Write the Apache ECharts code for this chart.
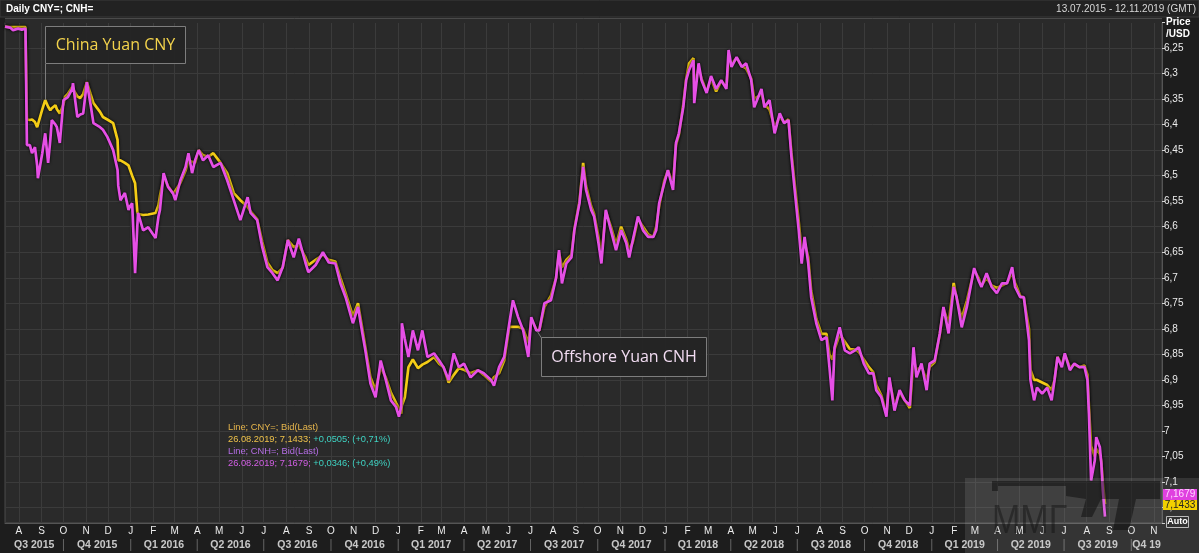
<!DOCTYPE html>
<html><head><meta charset="utf-8">
<script src="https://cdn.jsdelivr.net/npm/echarts@6/dist/echarts.min.js"></script>
<style>html,body{margin:0;padding:0;background:#1d1d1d;overflow:hidden}#c{width:1199px;height:553px}</style>
</head><body><div id="c"></div>
<script>
// ---- data ----
const dates = [
'2015-07-13','2015-07-20','2015-07-24','2015-07-31','2015-08-05','2015-08-10','2015-08-12','2015-08-16','2015-08-19','2015-08-23',
'2015-08-26','2015-08-27','2015-09-02','2015-09-06','2015-09-10','2015-09-13','2015-09-15','2015-09-20','2015-09-22','2015-09-26',
'2015-10-01','2015-10-03','2015-10-07','2015-10-13','2015-10-14','2015-10-20','2015-10-24','2015-10-28','2015-11-02','2015-11-07',
'2015-11-11','2015-11-20','2015-11-24','2015-11-30','2015-12-08','2015-12-14','2015-12-15','2015-12-18','2015-12-24','2015-12-29',
'2015-12-31','2016-01-03','2016-01-07','2016-01-10','2016-01-11','2016-01-18','2016-01-25','2016-02-04','2016-02-08','2016-02-10',
'2016-02-15','2016-02-21','2016-02-28','2016-03-02','2016-03-09','2016-03-16','2016-03-20','2016-03-25','2016-03-29','2016-04-03',
'2016-04-09','2016-04-16','2016-04-23','2016-05-03','2016-05-12','2016-05-21','2016-05-30','2016-06-09','2016-06-13','2016-06-22',
'2016-06-29','2016-07-06','2016-07-13','2016-07-20','2016-07-27','2016-08-03','2016-08-11','2016-08-18','2016-08-27','2016-08-31',
'2016-09-10','2016-09-20','2016-09-28','2016-10-07','2016-10-14','2016-10-21','2016-10-31','2016-11-07','2016-11-13','2016-11-17',
'2016-11-24','2016-12-01','2016-12-08','2016-12-15','2016-12-22','2016-12-29','2017-01-02','2017-01-05','2017-01-06','2017-01-10',
'2017-01-15','2017-01-21','2017-01-28','2017-02-03','2017-02-10','2017-02-19','2017-02-26','2017-03-04','2017-03-11','2017-03-18',
'2017-03-25','2017-04-01','2017-04-10','2017-04-20','2017-04-28','2017-05-08','2017-05-12','2017-05-19','2017-05-26','2017-06-02',
'2017-06-07','2017-06-14','2017-06-21','2017-06-28','2017-07-02','2017-07-09','2017-07-13','2017-07-20','2017-07-29','2017-08-05',
'2017-08-09','2017-08-13','2017-08-19','2017-08-26','2017-08-30','2017-09-06','2017-09-11','2017-09-15','2017-09-22','2017-09-26',
'2017-10-02','2017-10-06','2017-10-12','2017-10-19','2017-10-26','2017-11-02','2017-11-09','2017-11-13','2017-11-18','2017-11-25',
'2017-12-02','2017-12-09','2017-12-16','2017-12-20','2017-12-24','2017-12-31','2018-01-05','2018-01-12','2018-01-16','2018-01-20',
'2018-01-26','2018-01-30','2018-02-03','2018-02-09','2018-02-10','2018-02-16','2018-02-20','2018-02-27','2018-03-05','2018-03-12',
'2018-03-19','2018-03-26','2018-03-29','2018-04-02','2018-04-09','2018-04-16','2018-04-22','2018-04-29','2018-05-03','2018-05-13',
'2018-05-17','2018-05-24','2018-05-31','2018-06-07','2018-06-13','2018-06-19','2018-06-23','2018-06-27','2018-07-03','2018-07-07',
'2018-07-11','2018-07-16','2018-07-20','2018-07-27','2018-08-03','2018-08-10','2018-08-14','2018-08-18','2018-08-21','2018-08-28',
'2018-09-04','2018-09-11','2018-09-18','2018-09-23','2018-09-30','2018-10-07','2018-10-13','2018-10-17','2018-10-24','2018-10-31',
'2018-11-04','2018-11-11','2018-11-18','2018-11-25','2018-12-02','2018-12-07','2018-12-11','2018-12-18','2018-12-25','2018-12-29',
'2019-01-05','2019-01-12','2019-01-17','2019-01-24','2019-01-31','2019-02-04','2019-02-11','2019-02-18','2019-02-28','2019-03-06',
'2019-03-10','2019-03-17','2019-03-24','2019-03-31','2019-04-07','2019-04-14','2019-04-21','2019-04-25','2019-05-02','2019-05-07',
'2019-05-14','2019-05-16','2019-05-21','2019-05-25','2019-06-01','2019-06-08','2019-06-14','2019-06-18','2019-06-22','2019-06-28',
'2019-07-02','2019-07-09','2019-07-15','2019-07-22','2019-07-29','2019-08-02','2019-08-04','2019-08-07','2019-08-12','2019-08-14',
'2019-08-19','2019-08-21','2019-08-23','2019-08-26'
];
const cny = [
6.208,6.209,6.209,6.209,6.209,6.209,6.390,6.391,6.390,6.395,
6.405,6.400,6.370,6.352,6.365,6.372,6.368,6.362,6.370,6.378,
6.360,6.346,6.340,6.326,6.330,6.345,6.348,6.340,6.317,6.340,
6.358,6.375,6.385,6.390,6.397,6.430,6.470,6.470,6.475,6.480,
6.483,6.500,6.515,6.571,6.575,6.577,6.576,6.573,6.558,6.540,
6.503,6.520,6.535,6.530,6.514,6.490,6.470,6.473,6.475,6.450,
6.460,6.463,6.456,6.475,6.495,6.534,6.548,6.561,6.570,6.585,
6.630,6.670,6.685,6.691,6.680,6.626,6.640,6.635,6.660,6.675,
6.665,6.655,6.665,6.668,6.700,6.730,6.775,6.750,6.800,6.835,
6.895,6.920,6.875,6.895,6.925,6.945,6.955,6.966,6.950,6.934,
6.875,6.860,6.877,6.870,6.865,6.855,6.868,6.875,6.905,6.890,
6.877,6.880,6.887,6.881,6.890,6.903,6.895,6.887,6.862,6.796,
6.796,6.796,6.800,6.828,6.783,6.800,6.803,6.757,6.735,6.700,
6.650,6.680,6.665,6.655,6.605,6.550,6.475,6.520,6.560,6.575,
6.620,6.660,6.570,6.600,6.635,6.600,6.625,6.645,6.630,6.585,
6.600,6.615,6.620,6.600,6.560,6.510,6.490,6.515,6.440,6.420,
6.360,6.310,6.280,6.270,6.320,6.290,6.310,6.335,6.310,6.335,
6.315,6.325,6.275,6.280,6.270,6.285,6.290,6.310,6.350,6.340,
6.360,6.370,6.405,6.385,6.395,6.390,6.455,6.510,6.590,6.650,
6.630,6.660,6.725,6.780,6.810,6.810,6.850,6.860,6.840,6.810,
6.825,6.840,6.840,6.845,6.860,6.875,6.885,6.910,6.930,6.965,
6.900,6.950,6.925,6.940,6.955,6.860,6.880,6.875,6.900,6.875,
6.865,6.810,6.760,6.790,6.710,6.740,6.780,6.745,6.685,6.700,
6.715,6.700,6.715,6.720,6.715,6.710,6.690,6.710,6.735,6.740,
6.800,6.880,6.900,6.900,6.905,6.910,6.920,6.900,6.855,6.870,
6.850,6.875,6.870,6.875,6.872,6.890,6.950,7.030,7.050,7.035,
7.045,7.060,7.100,7.1433
];
const cnh = [
6.208,6.210,6.215,6.212,6.214,6.212,6.440,6.440,6.456,6.444,
6.480,6.505,6.456,6.417,6.475,6.430,6.391,6.400,6.405,6.436,
6.352,6.350,6.346,6.330,6.319,6.385,6.380,6.378,6.317,6.360,
6.397,6.405,6.410,6.424,6.450,6.489,6.520,6.548,6.534,6.567,
6.560,6.554,6.691,6.600,6.573,6.607,6.601,6.622,6.580,6.567,
6.495,6.522,6.535,6.548,6.509,6.483,6.456,6.495,6.470,6.450,
6.470,6.460,6.483,6.475,6.509,6.548,6.587,6.542,6.573,6.587,
6.640,6.679,6.691,6.705,6.679,6.626,6.660,6.623,6.670,6.689,
6.675,6.650,6.670,6.672,6.711,6.738,6.789,6.757,6.809,6.842,
6.907,6.934,6.862,6.900,6.940,6.953,6.972,6.953,6.789,6.820,
6.855,6.803,6.842,6.803,6.855,6.848,6.862,6.875,6.900,6.848,
6.875,6.868,6.895,6.881,6.887,6.900,6.911,6.875,6.855,6.789,
6.744,6.777,6.803,6.855,6.777,6.803,6.803,6.750,6.744,6.700,
6.646,6.711,6.672,6.660,6.607,6.554,6.483,6.528,6.567,6.580,
6.632,6.672,6.567,6.607,6.646,6.607,6.632,6.660,6.626,6.580,
6.607,6.620,6.620,6.607,6.554,6.515,6.489,6.528,6.436,6.417,
6.366,6.313,6.293,6.274,6.358,6.280,6.313,6.338,6.305,6.330,
6.313,6.330,6.254,6.287,6.268,6.287,6.280,6.313,6.366,6.330,
6.366,6.352,6.417,6.378,6.397,6.391,6.463,6.522,6.607,6.672,
6.620,6.672,6.738,6.789,6.822,6.816,6.875,6.940,6.836,6.797,
6.842,6.848,6.842,6.836,6.868,6.887,6.887,6.920,6.934,6.972,
6.895,6.960,6.920,6.940,6.950,6.836,6.895,6.868,6.920,6.868,
6.862,6.809,6.757,6.809,6.718,6.738,6.797,6.757,6.681,6.705,
6.718,6.691,6.718,6.730,6.711,6.711,6.679,6.718,6.738,6.738,
6.822,6.900,6.940,6.915,6.927,6.915,6.940,6.900,6.855,6.875,
6.848,6.881,6.868,6.875,6.875,6.900,6.966,7.097,7.058,7.012,
7.032,7.063,7.116,7.1679
];
const yTickLabels = ['6,25','6,3','6,35','6,4','6,45','6,5','6,55','6,6','6,65','6,7','6,75','6,8','6,85','6,9','6,95','7','7,05','7,1','7,15'];
const monthLetters = ['J','F','M','A','M','J','J','A','S','O','N','D'];
const quarterNames = ['Q3 2015','Q4 2015','Q1 2016','Q2 2016','Q3 2016','Q4 2016','Q1 2017','Q2 2017','Q3 2017','Q4 2017','Q1 2018','Q2 2018','Q3 2018','Q4 2018','Q1 2019','Q2 2019','Q3 2019','Q4 19'];
const quarterStarts = ['2015-07-01','2015-10-01','2016-01-01','2016-04-01','2016-07-01','2016-10-01','2017-01-01','2017-04-01','2017-07-01','2017-10-01','2018-01-01','2018-04-01','2018-07-01','2018-10-01','2019-01-01','2019-04-01','2019-07-01','2019-10-01','2020-01-01'];
const axisStart = '2015-07-13', axisEnd = '2019-11-12';
const cnyChange = ['+0,0505;', '(+0,71%)'];
const cnhChange = ['+0,0346;', '(+0,49%)'];
const lastDate = '26.08.2019';

// ---- helpers ----
const toTs = s => new Date(s + 'T00:00:00').getTime();
const fmt = v => String(v).replace('.', ',');
const DAY = 86400000;
const tMin = toTs(axisStart), tMax = toTs(axisEnd);

const quarterMarks = [], quarterSeps = [];
for (let i = 0; i < quarterNames.length; i++) {
  const a = Math.max(toTs(quarterStarts[i]), tMin), b = Math.min(toTs(quarterStarts[i + 1]), tMax);
  quarterMarks.push({ value: [(a + b) / 2, 'q'], name: quarterNames[i] });
  const s = toTs(quarterStarts[i]);
  if (s > tMin && s < tMax) quarterSeps.push([s, 'q']);
}

const FONT = '"Liberation Sans", Arial, sans-serif';
const chart = echarts.init(document.getElementById('c'), null, { renderer: 'canvas' });
const lastCny = cny[cny.length - 1], lastCnh = cnh[cnh.length - 1];

chart.setOption({
  animation: false,
  backgroundColor: '#1d1d1d',
  grid: [
    { left: 5, right: 37, top: 22.5, height: 500.4, show: true, backgroundColor: '#2a2a2a', borderColor: '#4a4a4a', borderWidth: 1 },
    { left: 5, right: 37, top: 538, height: 14 }
  ],
  xAxis: [
    { type: 'time', gridIndex: 0, min: tMin, max: tMax, minInterval: 28 * DAY, maxInterval: 31 * DAY, splitNumber: 60,
      axisLine: { show: true, lineStyle: { color: '#555' } }, axisTick: { show: false },
      splitLine: { show: true, lineStyle: { color: '#3b3b3b', width: 1 } },
      axisLabel: { show: true, margin: 3, color: '#ececec', fontSize: 10, fontFamily: FONT, showMinLabel: false, showMaxLabel: false, hideOverlap: false,
        formatter: v => monthLetters[new Date(v).getMonth()] } },
    { type: 'time', gridIndex: 1, min: tMin, max: tMax, show: false }
  ],
  yAxis: [
    { type: 'value', gridIndex: 0, position: 'right', inverse: true, min: 6.2, max: 7.18, interval: 0.05,
      axisLine: { show: true, lineStyle: { color: '#555' } },
      axisTick: { show: true, length: 3, lineStyle: { color: '#cfcfcf' } },
      splitLine: { show: true, lineStyle: { color: '#3b3b3b', width: 1 } },
      axisLabel: { margin: 2, color: '#ececec', fontSize: 10, fontFamily: FONT,
        formatter: v => { const t = fmt(Math.round(v * 100) / 100); return yTickLabels.includes(t) ? t : ''; } } },
    { type: 'category', gridIndex: 1, data: ['q'], show: false }
  ],
  series: [
    { name: 'CNY', type: 'line', xAxisIndex: 0, yAxisIndex: 0, symbol: 'none', z: 3,
      data: dates.map((d, i) => [toTs(d), cny[i]]),
      lineStyle: { color: '#f4cd16', width: 2.7, shadowColor: 'rgba(0,0,0,0.95)', shadowBlur: 3 } },
    { name: 'CNH', type: 'line', xAxisIndex: 0, yAxisIndex: 0, symbol: 'none', z: 4,
      data: dates.map((d, i) => [toTs(d), cnh[i]]),
      lineStyle: { color: '#e64fe6', width: 2.7, shadowColor: 'rgba(0,0,0,0.95)', shadowBlur: 3 } },
    { type: 'scatter', xAxisIndex: 1, yAxisIndex: 1, symbolSize: 0, data: quarterMarks, silent: true,
      label: { show: true, position: 'inside', formatter: '{b}', color: '#f2f2f2', fontSize: 10.5, fontWeight: 'bold', fontFamily: FONT } },
    { type: 'scatter', xAxisIndex: 1, yAxisIndex: 1, symbol: 'rect', symbolSize: [1, 12], data: quarterSeps, silent: true,
      itemStyle: { color: '#777' } }
  ],
  graphic: { elements: [
    { type: 'rect', shape: { x: 5, y: 18, width: 1157, height: 5 }, style: { fill: '#2a2a2a' }, z: 1 },
    { type: 'line', shape: { x1: 5, y1: 18.5, x2: 1162, y2: 18.5 }, style: { stroke: '#4a4a4a', lineWidth: 1 }, z: 1 },
    { type: 'rect', shape: { x: 0, y: 0, width: 1199, height: 17 }, style: { fill: '#222', stroke: '#3a3a3a' }, z: 50 },
    { type: 'text', x: 6, y: 9, style: { text: 'Daily CNY=; CNH=', fill: '#fff', font: 'bold 10px ' + FONT, verticalAlign: 'middle' }, z: 51 },
    { type: 'text', x: 1196, y: 9, style: { text: axisStart.split('-').reverse().join('.') + ' - ' + axisEnd.split('-').reverse().join('.') + ' (GMT)', fill: '#d8d8d8', font: '10px ' + FONT, align: 'right', verticalAlign: 'middle' }, z: 51 },
    { type: 'text', x: 1166, y: 22, style: { text: 'Price', fill: '#fff', font: 'bold 10px ' + FONT, verticalAlign: 'middle' }, z: 51 },
    { type: 'text', x: 1166, y: 34, style: { text: '/USD', fill: '#fff', font: 'bold 10px ' + FONT, verticalAlign: 'middle' }, z: 51 },

    { type: 'line', shape: { x1: 45.5, y1: 64, x2: 45.5, y2: 100 }, style: { stroke: '#7d7d7d', lineWidth: 1 }, z: 60 },
    { type: 'rect', shape: { x: 45.5, y: 26.5, width: 140, height: 37 }, style: { fill: 'rgba(36,36,36,0.95)', stroke: '#7d7d7d', lineWidth: 1 }, z: 60 },
    { type: 'text', x: 115.5, y: 45, style: { text: 'China Yuan CNY', fill: '#f3d34c', font: '16px "Open Sans", sans-serif', align: 'center', verticalAlign: 'middle' }, z: 61 },

    { type: 'line', shape: { x1: 541.5, y1: 338, x2: 537, y2: 331 }, style: { stroke: '#7d7d7d', lineWidth: 1 }, z: 60 },
    { type: 'rect', shape: { x: 541.5, y: 337.5, width: 165, height: 39 }, style: { fill: 'rgba(36,36,36,0.95)', stroke: '#7d7d7d', lineWidth: 1 }, z: 60 },
    { type: 'text', x: 624, y: 357, style: { text: 'Offshore Yuan CNH', fill: '#f2dcf2', font: '16px "Open Sans", sans-serif', align: 'center', verticalAlign: 'middle' }, z: 61 },

    { type: 'text', x: 228, y: 421, z: 61, style: {
      text: '{a|Line; CNY=; Bid(Last)}\n{b|' + lastDate + '; ' + fmt(lastCny) + ';} {c|' + cnyChange.join(' ') + '}\n{d|Line; CNH=; Bid(Last)}\n{e|' + lastDate + '; ' + fmt(lastCnh) + ';} {c|' + cnhChange.join(' ') + '}',
      font: '9.3px ' + FONT, lineHeight: 12,
      rich: { a: { fill: '#e7b64c', font: '9.3px ' + FONT, lineHeight: 12 }, b: { fill: '#eec24a', font: '9.3px ' + FONT, lineHeight: 12 },
              c: { fill: '#3fd3c3', font: '9.3px ' + FONT, lineHeight: 12 }, d: { fill: '#b56ee6', font: '9.3px ' + FONT, lineHeight: 12 },
              e: { fill: '#d35fe6', font: '9.3px ' + FONT, lineHeight: 12 } } } },

    { type: 'rect', shape: { x: 965, y: 478, width: 234, height: 75 }, style: { fill: 'rgba(200,200,200,0.14)' }, z: 70 },
    { type: 'text', x: 992, y: 522, scaleX: 0.85, originX: 0, originY: 0, style: { text: 'ММГ', fill: 'rgba(15,15,15,0.45)', font: '40px "Liberation Sans", sans-serif', verticalAlign: 'middle' }, z: 71 },
    { type: 'polygon', shape: { points: [[992,481],[1160,481],[1160,499],[1136,499],[1129,530],[1113,530],[1119,499],[1101,499],[1092,517],[1081,517],[1086,499],[1066,496],[1066,486],[998,486],[998,491],[992,491]] },
      style: { fill: 'rgba(5,5,5,0.45)' }, z: 71 },

    { type: 'rect', shape: { x: 1163, y: 489, width: 34, height: 11 }, style: { fill: '#e040e0' }, z: 80 },
    { type: 'text', x: 1180, y: 494.5, style: { text: fmt(lastCnh), fill: '#ffd6ff', font: '10px ' + FONT, align: 'center', verticalAlign: 'middle' }, z: 81 },
    { type: 'rect', shape: { x: 1163, y: 500, width: 34, height: 10 }, style: { fill: '#f2d000' }, z: 80 },
    { type: 'text', x: 1180, y: 505, style: { text: fmt(lastCny), fill: '#222', font: '10px ' + FONT, align: 'center', verticalAlign: 'middle' }, z: 81 },
    { type: 'rect', shape: { x: 1166.5, y: 516.5, width: 22, height: 11 }, style: { fill: '#333', stroke: '#bbb' }, z: 80 },
    { type: 'text', x: 1177.5, y: 522, style: { text: 'Auto', fill: '#fff', font: 'bold 9px ' + FONT, align: 'center', verticalAlign: 'middle' }, z: 81 }
  ] }
});
</script></body></html>
